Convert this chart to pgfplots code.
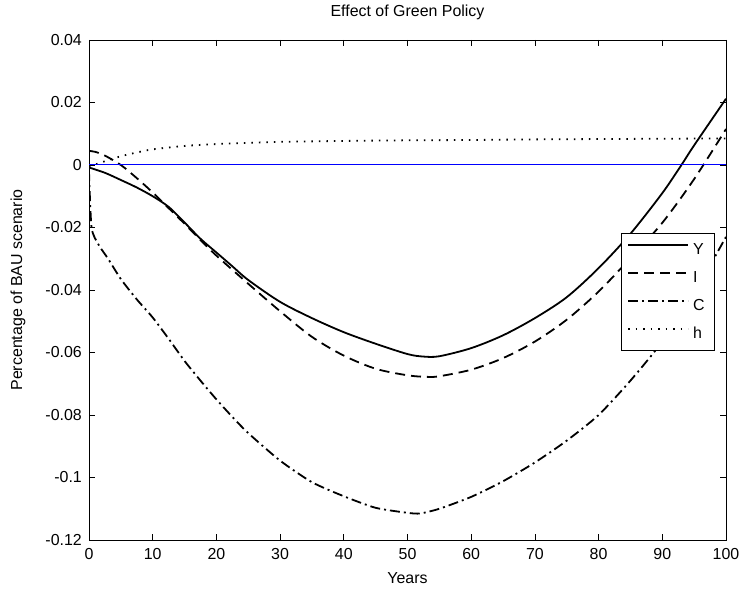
\documentclass[border=0pt]{standalone}
\usepackage{fontspec}
\setmainfont{Liberation Sans}
\usepackage{pgfplots}
\pgfplotsset{compat=1.18}

\newcommand{\chartfont}{\fontsize{16}{19}\selectfont}
\definecolor{zeroblue}{RGB}{0,0,255}

\begin{document}
\begin{tikzpicture}
\path[use as bounding box] (0bp,0bp) rectangle (743bp,595bp);
\begin{axis}[
  at={(89bp,55bp)}, anchor=south west,
  width=637bp, height=500bp, scale only axis,
  xmin=0, xmax=100, ymin=-0.12, ymax=0.04,
  xtick={0,10,20,30,40,50,60,70,80,90,100},
  xticklabels={0,10,20,30,40,50,60,70,80,90,100},
  ytick={-0.12,-0.1,-0.08,-0.06,-0.04,-0.02,0,0.02,0.04},
  yticklabels={-0.12,-0.1,-0.08,-0.06,-0.04,-0.02,0,0.02,0.04},
  tick align=inside,
  major tick length=6bp,
  axis line style={line width=0.8bp},
  every tick/.style={black, line width=0.8bp},
  tick label style={font=\chartfont},
  xticklabel style={anchor=north, inner sep=0pt, yshift=-8bp},
  yticklabel style={anchor=east, inner sep=0pt, xshift=-7bp},
  every axis title shift=0pt,
  title={Effect of Green Policy},
  title style={at={(axis description cs:0.5,1.056)}, anchor=center, font=\chartfont},
  xlabel={Years},
  xlabel style={at={(axis description cs:0.5,-0.076)}, anchor=center, font=\chartfont},
  ylabel={Percentage of BAU scenario},
  ylabel style={at={(axis description cs:-0.1115,0.5)}, anchor=center, rotate=0, font=\chartfont},
  legend cell align=left,
  legend image code/.code={\draw[#1] (0bp,4.5bp) -- (60bp,4.5bp);},
  legend style={at={(rel axis cs:0.9827,0.614)}, anchor=north east,
    draw=black, line width=0.8bp, fill=white, font=\chartfont,
    inner xsep=6bp, inner ysep=6bp, row sep=7bp,
    nodes={inner xsep=4bp, inner ysep=3bp, text height=12bp, text depth=3bp}},
]
% output
\addplot[black, line width=1.8bp, solid, smooth, tension=0.5] coordinates {
 (0,-0.0008) (2.5,-0.0025) (5,-0.0048) (7.5,-0.0072) (10,-0.0100)
 (12.5,-0.0134) (15,-0.0184) (17.5,-0.0236) (20,-0.0280) (22.5,-0.0324)
 (25,-0.0368) (30,-0.0438) (35,-0.0490) (40,-0.0535) (45,-0.0572)
 (50,-0.0605) (52.5,-0.0613) (55,-0.0612) (60,-0.0586) (65,-0.0545)
 (70,-0.0490) (75,-0.0423) (80,-0.0330) (85,-0.0220) (90,-0.0090)
 (93,0.0000) (95,0.0063) (100,0.0212)
};
\addlegendentry{Y}
% investment
\addplot[black, line width=1.8bp, dash pattern=on 10bp off 6bp, smooth, tension=0.5] coordinates {
 (0,0.0045) (1,0.0042) (2.5,0.0030) (5,0.0000) (7.5,-0.0042)
 (10,-0.0088) (12.5,-0.0138) (15,-0.0188) (17.5,-0.0240) (20,-0.0290)
 (25,-0.0380) (30,-0.0468) (35,-0.0550) (40,-0.0610) (45,-0.0652)
 (50,-0.0673) (53,-0.0678) (55,-0.0676) (60,-0.0655) (65,-0.0618)
 (70,-0.0565) (75,-0.0495) (80,-0.0405) (85,-0.0298) (90,-0.0185)
 (95,-0.0045) (100,0.0115)
};
\addlegendentry{I}
% consumption
\addplot[black, line width=1.8bp, dash pattern=on 10bp off 4bp on 2bp off 4bp, smooth, tension=0.4] coordinates {
 (0,-0.0020) (0.4,-0.0200) (1.5,-0.0255) (3,-0.0300) (5,-0.0365)
 (7.5,-0.0430) (10,-0.0488) (12.5,-0.0556) (15,-0.0627) (17.5,-0.0690)
 (20,-0.0750) (22.5,-0.0806) (25,-0.0858) (30,-0.0946) (35,-0.1015)
 (40,-0.1060) (45,-0.1097) (50,-0.1113) (52,-0.1115) (55,-0.1100)
 (60,-0.1062) (65,-0.1012) (70,-0.0952) (75,-0.0882) (80,-0.0800)
 (85,-0.0690) (90,-0.0565) (95,-0.0410) (100,-0.0230)
};
\addlegendentry{C}
% hours
\addplot[black, line width=1.8bp, dash pattern=on 1.5bp off 6bp, smooth, tension=0.5] coordinates {
 (0,-0.0005) (2.5,0.0012) (5,0.0028) (7.5,0.0040) (10,0.0050)
 (15,0.0061) (20,0.0067) (25,0.0071) (30,0.0074) (40,0.0077)
 (50,0.0079) (60,0.0080) (70,0.0082) (80,0.0083) (90,0.0084)
 (100,0.0085)
};
\addlegendentry{h}
% zero reference line
\addplot[forget plot, draw=zeroblue, line width=1bp, solid] coordinates {(0,0) (100,0)};
\end{axis}
\end{tikzpicture}
\end{document}
